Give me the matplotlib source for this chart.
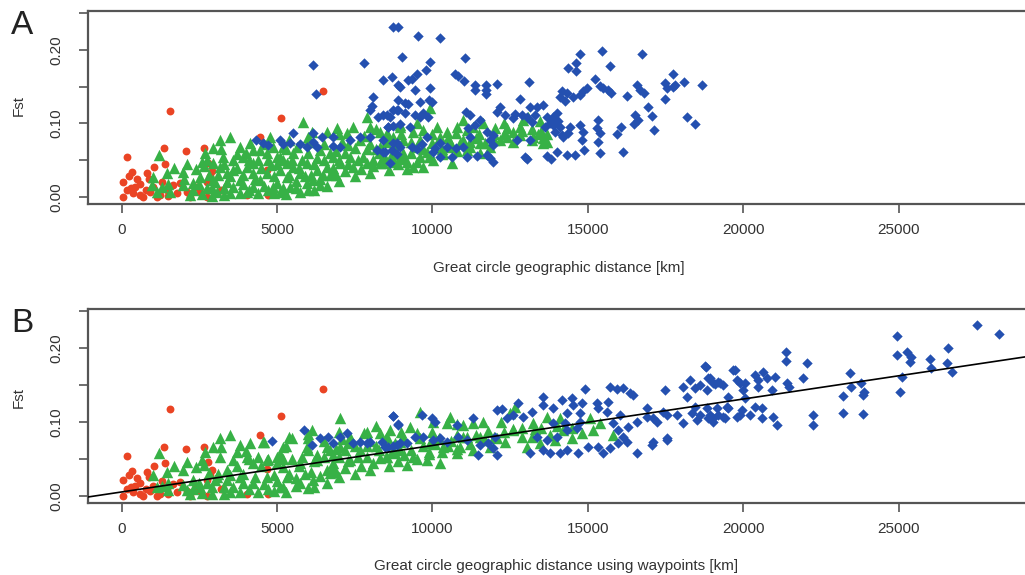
import numpy as np
import matplotlib.pyplot as plt

plt.rcParams["font.family"] = ["Liberation Sans", "DejaVu Sans"]

# ---------------------------------
# Data: (distance km, Fst)
# ---------------------------------

# pairs within a region (same in both panels)
red_pts = [
    (167, 0.054), (1560, 0.117), (1377, 0.066), (2075, 0.063), (2654, 0.066),
    (5132, 0.108), (6493, 0.144), (4456, 0.082), (1055, 0.041), (1400, 0.045),
    (328, 0.034), (810, 0.032), (39, 0.021), (167, 0.0095), (380, 0.005),
    (595, 0.003), (917, 0.007), (1239, 0.003), (1776, 0.005), (2098, 0.007),
    (1882, 0.019), (2741, 0.0005), (2741, 0.021), (4028, 0.003), (4723, 0.003),
    (2793, 0.046), (58, 0.0004), (434, 0.014), (701, 0.0004), (1023, 0.014),
    (1132, 0.0004), (1454, 0.0095), (1667, 0.016), (2204, 0.0004), (2526, 0.007),
    (4672, 0.037), (251, 0.029), (489, 0.024), (2900, 0.035), (2850, 0.028),
    (3200, 0.009), (600, 0.018), (900, 0.025), (1300, 0.02), (2400, 0.014),
    (1500, 0.002), (300, 0.012), (800, 0.01),
]

green_a = [
    (1218, 0.0571), (1968, 0.0344), (1454, 0.0321), (1003, 0.0276), (971, 0.0163),
    (1132, 0.0072), (1561, 0.0072), (1990, 0.0163), (2312, 0.0186), (2655, 0.0421),
    (2934, 0.0661), (3170, 0.0774), (3491, 0.0820), (3813, 0.0684), (4135, 0.0729),
    (3277, 0.0548), (3599, 0.0503), (3921, 0.0548), (4242, 0.0457), (2526, 0.0276),
    (2741, 0.0118), (2955, 0.0231), (3384, 0.0321), (3599, 0.0141), (3813, 0.0231),
    (3062, 0.0072), (4028, 0.0072), (4242, 0.0141), (4457, 0.0231), (4671, 0.0321),
    (4886, 0.0141), (5100, 0.0072), (5422, 0.0141), (5744, 0.0072), (5958, 0.0186),
    (6387, 0.0163), (6709, 0.0299), (4778, 0.0820), (4671, 0.0593), (4993, 0.0548),
    (5315, 0.0457), (5529, 0.0593), (5851, 0.1024), (6119, 0.0888), (6387, 0.0638),
    (6602, 0.0888), (6816, 0.0548), (6923, 0.0933), (7245, 0.0865), (7459, 0.0956),
    (7674, 0.0774), (7352, 0.0548), (7889, 0.1092), (7996, 0.0956), (8318, 0.0888),
    (8532, 0.0820), (7781, 0.0548), (8103, 0.0503), (8425, 0.0548), (8747, 0.0480),
    (8961, 0.0548), (8961, 0.0956), (5529, 0.0412), (5958, 0.0457), (6280, 0.0367),
    (6602, 0.0412), (7031, 0.0457), (7460, 0.0412), (7889, 0.0457), (8318, 0.0457),
    (5100, 0.0367), (5315, 0.0276), (5744, 0.0321), (6173, 0.0231), (6494, 0.0299),
    (4242, 0.0321), (4028, 0.0412), (3599, 0.0367), (3170, 0.0412), (2955, 0.0457),
    (2741, 0.0503), (5636, 0.0684), (5207, 0.0684), (4457, 0.0638), (4886, 0.0684),
    (4242, 0.0638), (9926, 0.1205), (9497, 0.1001), (8961, 0.0978), (9390, 0.0888),
    (9711, 0.0910), (10140, 0.0956), (10462, 0.0888), (10772, 0.0865), (11106, 0.0910),
    (10998, 0.1046), (11642, 0.1001), (12017, 0.0933), (12393, 0.0933), (12821, 0.0956),
    (13090, 0.1092), (13465, 0.1037), (12929, 0.1046), (12393, 0.0820), (12821, 0.0842),
    (13250, 0.0820), (13572, 0.0797), (13572, 0.0729), (12178, 0.0774), (11856, 0.0684),
    (11535, 0.0729), (11213, 0.0752), (10891, 0.0729), (10570, 0.0684), (10355, 0.0593),
    (10033, 0.0503), (10623, 0.0457), (9604, 0.0548), (9175, 0.0480), (8746, 0.0503),
    (8424, 0.0457), (9390, 0.0412), (9068, 0.0593), (9711, 0.0412), (8531, 0.0865),
    (8746, 0.0820), (9068, 0.0774), (9497, 0.0684), (9819, 0.0616), (10248, 0.0820),
    (11106, 0.0638), (11535, 0.0593), (8317, 0.0684), (2200, 0.003), (2600, 0.004),
    (3300, 0.003), (3500, 0.006), (4400, 0.005), (4700, 0.009), (5300, 0.004),
    (6000, 0.009), (6600, 0.015), (7000, 0.022), (7500, 0.028), (8000, 0.033),
    (8600, 0.037), (9200, 0.038), (7200, 0.035), (6800, 0.040), (6100, 0.030),
    (5600, 0.022), (5000, 0.019), (4600, 0.015), (3900, 0.017), (3400, 0.020),
    (2800, 0.030), (2400, 0.038), (2100, 0.045), (1700, 0.040), (3700, 0.058),
    (4400, 0.050), (5100, 0.055), (5800, 0.050), (6300, 0.053), (6900, 0.062),
    (7500, 0.066), (8200, 0.065), (8800, 0.070), (6000, 0.075), (5400, 0.077),
    (7100, 0.075), (7800, 0.083), (8500, 0.075), (9300, 0.075), (10000, 0.073),
    (10500, 0.080), (11500, 0.085), (12600, 0.075), (13200, 0.093), (11300, 0.095),
    (10300, 0.065), (9600, 0.078), (4800, 0.043), (3300, 0.045), (2000, 0.025),
    (1500, 0.018), (1300, 0.013), (2700, 0.060), (3000, 0.020), (13700, 0.075),
    (13400, 0.086), (12000, 0.085), (12300, 0.100),
    (2300, 0.010), (2500, 0.018), (2900, 0.012), (3100, 0.030), (3300, 0.012),
    (3500, 0.028), (3700, 0.040), (3900, 0.030), (4100, 0.010), (4100, 0.050),
    (4300, 0.025), (4500, 0.040), (4700, 0.050), (4900, 0.028), (5000, 0.045),
    (5200, 0.012), (5200, 0.050), (5400, 0.030), (5500, 0.050), (5700, 0.040),
    (5900, 0.028), (6000, 0.060), (6200, 0.045), (6400, 0.025), (6500, 0.050),
    (6700, 0.060), (6800, 0.035), (7000, 0.050), (7200, 0.060), (7300, 0.045),
    (7600, 0.050), (7700, 0.038), (7900, 0.065), (8100, 0.042), (8300, 0.060),
    (8500, 0.050), (8700, 0.058), (8900, 0.045), (9100, 0.052), (9300, 0.060),
    (9500, 0.048), (9700, 0.065), (9900, 0.055), (10100, 0.068), (10300, 0.058),
    (10600, 0.072), (10800, 0.062), (11000, 0.078), (11200, 0.068), (11400, 0.080),
    (11700, 0.074), (12000, 0.078), (12300, 0.085), (12600, 0.088), (12900, 0.090),
    (13200, 0.078), (13500, 0.090), (13700, 0.085), (3800, 0.005), (4900, 0.006),
    (5600, 0.012), (6200, 0.010), (6900, 0.030), (3200, 0.065), (4000, 0.060),
    (4600, 0.072), (5300, 0.065), (6500, 0.072), (7300, 0.070), (8000, 0.072),
    (9000, 0.085), (10000, 0.085), (10800, 0.095), (8200, 0.092), (7000, 0.085),
    (6000, 0.082), (2900, 0.002), (2600, 0.048),
]

green_b = [
    (1218, 0.0586), (1968, 0.0351), (1454, 0.0329), (1003, 0.0284), (1132, 0.0126),
    (1507, 0.0081), (1990, 0.0149), (2655, 0.0419), (2934, 0.0667), (3170, 0.0779),
    (3491, 0.0825), (3813, 0.0689), (4135, 0.0712), (3599, 0.0487), (4028, 0.0532),
    (4564, 0.0734), (5207, 0.0667), (5475, 0.0779), (6119, 0.0892), (6816, 0.0554),
    (7031, 0.1050), (7352, 0.0802), (7889, 0.0870), (8318, 0.0847), (8532, 0.0802),
    (8800, 0.0577), (8961, 0.0734), (2741, 0.0171), (3384, 0.0351), (3813, 0.0261),
    (4242, 0.0171), (4671, 0.0261), (5100, 0.0126), (5315, 0.0261), (5744, 0.0171),
    (6173, 0.0216), (6602, 0.0351), (6709, 0.0306), (5207, 0.0396), (5744, 0.0441),
    (6280, 0.0487), (7352, 0.0487), (7889, 0.0532), (8318, 0.0509), (4671, 0.0487),
    (4242, 0.0441), (3170, 0.0532), (3062, 0.0261), (2526, 0.0126), (2312, 0.0216),
    (2097, 0.0081), (3599, 0.0126), (5958, 0.0667), (4993, 0.0532), (6602, 0.0667),
    (7031, 0.0667), (7674, 0.0622), (9604, 0.1140), (10033, 0.1005), (10462, 0.0982),
    (10998, 0.0960), (11642, 0.1005), (12661, 0.1207), (12500, 0.1117), (11535, 0.0802),
    (12071, 0.0779), (12607, 0.0892), (13250, 0.0982), (13679, 0.1072), (14109, 0.1050),
    (14216, 0.0892), (15074, 0.1050), (15181, 0.0892), (15825, 0.0825), (13947, 0.0757),
    (13465, 0.0712), (13036, 0.0667), (8639, 0.0892), (9068, 0.0802), (9497, 0.0847),
    (9926, 0.0712), (10355, 0.0667), (10891, 0.0667), (11320, 0.0622), (8961, 0.0622),
    (9390, 0.0532), (9819, 0.0487), (10248, 0.0441), (8531, 0.0532), (10784, 0.0577),
    (11856, 0.0667), (12339, 0.0734), (11106, 0.0802), (9282, 0.0937), (10569, 0.1072),
    (2200, 0.003), (2600, 0.004), (3300, 0.003), (3500, 0.006), (4400, 0.005),
    (4700, 0.009), (5300, 0.006), (6000, 0.011), (6600, 0.018), (7000, 0.025),
    (7500, 0.030), (8000, 0.035), (8600, 0.040), (9200, 0.042), (7200, 0.038),
    (6800, 0.044), (6100, 0.032), (5600, 0.024), (5000, 0.020), (4600, 0.016),
    (3900, 0.018), (3400, 0.021), (2800, 0.031), (2400, 0.039), (2100, 0.046),
    (1700, 0.041), (3700, 0.060), (4400, 0.052), (5100, 0.057), (5800, 0.052),
    (6300, 0.056), (6900, 0.064), (7500, 0.068), (8200, 0.068), (8800, 0.072),
    (6000, 0.078), (5400, 0.080), (7100, 0.077), (7800, 0.085), (8500, 0.078),
    (9600, 0.079), (10200, 0.078), (10800, 0.083), (11800, 0.088), (12900, 0.080),
    (13300, 0.090), (11300, 0.098), (10500, 0.068), (9900, 0.060), (1500, 0.018),
    (1300, 0.013), (2700, 0.060), (3000, 0.021), (14500, 0.078), (12200, 0.100),
    (2300, 0.010), (2500, 0.018), (2900, 0.012), (3100, 0.030), (3300, 0.012),
    (3500, 0.028), (3700, 0.040), (3900, 0.030), (4100, 0.010), (4100, 0.050),
    (4300, 0.025), (4500, 0.040), (4700, 0.050), (4900, 0.028), (5000, 0.045),
    (5200, 0.012), (5200, 0.050), (5400, 0.030), (5500, 0.050), (5700, 0.040),
    (5900, 0.030), (6000, 0.062), (6200, 0.047), (6400, 0.027), (6500, 0.052),
    (6700, 0.062), (6800, 0.037), (7000, 0.052), (7200, 0.062), (7300, 0.047),
    (7600, 0.052), (7700, 0.040), (7900, 0.067), (8100, 0.044), (8300, 0.062),
    (8500, 0.052), (8700, 0.060), (8900, 0.047), (9100, 0.055), (9300, 0.062),
    (9500, 0.050), (9700, 0.067), (9900, 0.057), (10100, 0.070), (10300, 0.060),
    (10600, 0.074), (10800, 0.064), (11000, 0.080), (11200, 0.070), (11400, 0.082),
    (11700, 0.076), (12000, 0.080), (12300, 0.087), (12600, 0.090), (12900, 0.092),
    (13200, 0.080), (13500, 0.092), (13800, 0.082), (14000, 0.095), (14500, 0.092),
    (14800, 0.085), (15400, 0.098), (3800, 0.005), (4900, 0.007), (5600, 0.013),
    (6200, 0.012), (6900, 0.032), (3200, 0.066), (4000, 0.061), (4600, 0.073),
    (5300, 0.067), (6500, 0.074), (7300, 0.072), (8000, 0.074), (9000, 0.087),
    (10000, 0.087), (10800, 0.097), (8200, 0.094), (7000, 0.087), (6000, 0.084),
    (2900, 0.002), (2600, 0.049),
]

blue_a = [
    (4328, 0.0774), (4564, 0.0729), (4724, 0.0706), (5100, 0.0774), (5207, 0.0720),
    (5422, 0.0738), (5529, 0.0865), (5744, 0.0720), (5958, 0.0684), (6173, 0.0752),
    (6280, 0.0684), (6173, 0.0874), (6440, 0.0820), (6816, 0.0820), (6816, 0.0693),
    (7031, 0.0684), (7352, 0.0774), (7674, 0.0820), (7996, 0.0820), (8211, 0.0638),
    (8425, 0.0616), (8693, 0.0638), (8854, 0.0729), (8961, 0.0684), (8103, 0.1363),
    (8050, 0.1236), (7996, 0.1182), (8264, 0.1091), (8532, 0.1114), (8586, 0.0956),
    (8747, 0.0965), (8854, 0.1182), (8908, 0.1318), (6151, 0.1794), (6258, 0.1395),
    (7803, 0.1816), (8425, 0.1590), (8693, 0.1626), (8908, 0.1522), (8746, 0.2315),
    (8907, 0.2315), (9550, 0.2188), (10248, 0.2165), (9014, 0.1907), (9926, 0.1839),
    (9797, 0.1726), (9497, 0.1671), (9336, 0.1603), (9229, 0.1590), (8961, 0.1490),
    (9443, 0.1454), (9926, 0.1477), (11052, 0.1884), (10730, 0.1671), (10837, 0.1644),
    (11020, 0.1576), (11374, 0.1522), (11374, 0.1454), (11728, 0.1522), (11728, 0.1454),
    (11728, 0.1400), (12071, 0.1535), (13111, 0.1558), (14752, 0.1943), (14623, 0.1825),
    (14377, 0.1748), (14623, 0.1712), (15449, 0.1988), (15717, 0.1785), (16736, 0.1943),
    (15234, 0.1603), (15396, 0.1513), (15503, 0.1477), (15664, 0.1454), (15739, 0.1409),
    (16254, 0.1372), (16575, 0.1522), (16683, 0.1454), (16811, 0.1418), (17487, 0.1545),
    (17562, 0.1477), (17755, 0.1671), (17808, 0.1522), (17734, 0.1490), (18098, 0.1558),
    (18667, 0.1522), (17487, 0.1327), (18184, 0.1091), (18452, 0.0992), (16950, 0.1218),
    (17058, 0.1101), (17133, 0.0910), (16522, 0.1114), (16629, 0.1046), (16490, 0.0992),
    (16146, 0.0616), (16060, 0.0956), (15932, 0.0856), (15342, 0.1046), (15288, 0.0933),
    (15396, 0.0865), (15342, 0.0752), (15396, 0.0593), (14859, 0.0888), (14806, 0.0775),
    (14752, 0.0978), (14881, 0.0639), (14591, 0.0570), (14323, 0.0570), (14001, 0.0616),
    (14377, 0.0865), (14430, 0.0956), (14216, 0.0820), (14162, 0.1445), (14323, 0.1418),
    (14109, 0.1354), (14270, 0.1309), (14537, 0.1363), (14752, 0.1386), (14859, 0.1445),
    (14966, 0.1477), (14001, 0.1137), (13894, 0.1082), (14055, 0.1037), (13894, 0.0978),
    (14109, 0.0956), (13947, 0.0888), (14162, 0.0842), (13679, 0.1091), (13786, 0.1010),
    (13626, 0.0956), (13572, 0.1250), (13304, 0.1114), (13143, 0.1218), (13358, 0.1218),
    (12821, 0.1332), (13197, 0.1024), (13036, 0.1091), (12875, 0.1114), (12661, 0.1128),
    (12586, 0.1069), (12982, 0.0548), (13057, 0.0512), (13679, 0.0557), (13808, 0.0512),
    (11856, 0.0525), (11963, 0.0480), (11749, 0.0570), (11427, 0.0557), (11000, 0.0684),
    (10762, 0.0661), (10462, 0.0684), (10248, 0.0729), (10086, 0.0661), (9819, 0.0820),
    (11213, 0.0820), (11159, 0.0933), (11374, 0.0978), (11535, 0.1046), (11213, 0.1114),
    (11084, 0.1160), (12178, 0.1227), (12092, 0.1160), (12339, 0.1114), (11856, 0.0774),
    (11963, 0.0842), (11770, 0.0888), (11963, 0.0706), (12714, 0.0774), (13143, 0.0774),
    (8424, 0.1114), (8639, 0.1091), (8585, 0.0956), (8746, 0.1182), (8907, 0.1182),
    (8961, 0.0992), (9121, 0.1137), (9121, 0.1273), (9282, 0.0947), (9336, 0.0684),
    (9497, 0.0648), (9658, 0.0720), (9443, 0.1114), (9604, 0.1082), (9711, 0.1146),
    (9872, 0.1082), (9979, 0.1295), (9904, 0.1318), (9604, 0.1295), (9229, 0.1264),
    (8746, 0.0729), (8478, 0.0616), (8853, 0.0584), (8639, 0.0457), (8424, 0.0774),
    (10248, 0.0548), (10033, 0.0616), (10623, 0.0548), (11106, 0.0548),
]

blue_b = [
    (4832, 0.0748), (5872, 0.0892), (6119, 0.0689), (6387, 0.0779), (6655, 0.0802),
    (6816, 0.0712), (7031, 0.0802), (7245, 0.0847), (7459, 0.0712), (7674, 0.0734),
    (7889, 0.0712), (7996, 0.0734), (8371, 0.0734), (8747, 0.1081), (8908, 0.0973),
    (8586, 0.0667), (8854, 0.0689), (8746, 0.1081), (8907, 0.0960), (9658, 0.1095),
    (9979, 0.1050), (10086, 0.1005), (10784, 0.0960), (11320, 0.1050), (12071, 0.1162),
    (12232, 0.1171), (12393, 0.1050), (12607, 0.1095), (12768, 0.1252), (12929, 0.1072),
    (13197, 0.1140), (13572, 0.1342), (13572, 0.1230), (13894, 0.1185), (14162, 0.1297),
    (14484, 0.1320), (14537, 0.1230), (14806, 0.1252), (14913, 0.1442), (14752, 0.1117),
    (15288, 0.1252), (15342, 0.1185), (15664, 0.1275), (15717, 0.1478), (15932, 0.1442),
    (16146, 0.1455), (16361, 0.1397), (16468, 0.1365), (15610, 0.1140), (16039, 0.1095),
    (15825, 0.0982), (15986, 0.0892), (16146, 0.0802), (16307, 0.0937), (16575, 0.1005),
    (16897, 0.1072), (16897, 0.1185), (17112, 0.1050), (17219, 0.1005), (17433, 0.1140),
    (17487, 0.1432), (17562, 0.0779), (17112, 0.0734), (17058, 0.0689), (16575, 0.0577),
    (16254, 0.0734), (15986, 0.0712), (15717, 0.0644), (15503, 0.0577), (15342, 0.0667),
    (15020, 0.0667), (14698, 0.0577), (14323, 0.0622), (14109, 0.0577), (13786, 0.0577),
    (13572, 0.0622), (13679, 0.0757), (14001, 0.0802), (14323, 0.0892), (14645, 0.0915),
    (14270, 0.0982), (14752, 0.1005), (14323, 0.1117), (13894, 0.0982), (13358, 0.0802),
    (13143, 0.0577), (12071, 0.0554), (11963, 0.0644), (11803, 0.0712), (12017, 0.0802),
    (11481, 0.0554), (11535, 0.0689), (11106, 0.0757), (10837, 0.0802), (10462, 0.0734),
    (10248, 0.0779), (10033, 0.0757), (9711, 0.0802), (9443, 0.0802), (9175, 0.0712),
    (8746, 0.0676), (8478, 0.0667), (8961, 0.0712), (18184, 0.1342), (18077, 0.1478),
    (18291, 0.1568), (18452, 0.1455), (18613, 0.1500), (18881, 0.1590), (18774, 0.1757),
    (19042, 0.1523), (19203, 0.1545), (19364, 0.1500), (19686, 0.1703), (19793, 0.1568),
    (19525, 0.1342), (19471, 0.1207), (19149, 0.1185), (18881, 0.1050), (18506, 0.1027),
    (18345, 0.1117), (18077, 0.0982), (17862, 0.1095), (17541, 0.1095), (19793, 0.1072),
    (19364, 0.1072), (19042, 0.1050), (18613, 0.1095), (17541, 0.0757), (18452, 0.1207),
    (18806, 0.1748), (18935, 0.1590), (19096, 0.1514), (19257, 0.1523), (18828, 0.1433),
    (19739, 0.1703), (19900, 0.1532), (20061, 0.1532), (20007, 0.1433), (20061, 0.1320),
    (19954, 0.1162), (19900, 0.1095), (20222, 0.1095), (19525, 0.1185), (19417, 0.1050),
    (19203, 0.1095), (18828, 0.1185), (18935, 0.1095), (19042, 0.1005), (20382, 0.1635),
    (20490, 0.1568), (20490, 0.1478), (20651, 0.1680), (20758, 0.1590), (20597, 0.1185),
    (20597, 0.1050), (20382, 0.1207), (20919, 0.1433), (21026, 0.1604), (20973, 0.1072),
    (21080, 0.0960), (21380, 0.1950), (21380, 0.1829), (21423, 0.1523), (21487, 0.1478),
    (21917, 0.1590), (22067, 0.1793), (22260, 0.1095), (22238, 0.0960), (23203, 0.1351),
    (23203, 0.1126), (23439, 0.1658), (23461, 0.1469), (23783, 0.1523), (23890, 0.1410),
    (23847, 0.1365), (23868, 0.1108), (24962, 0.2167), (24962, 0.1906), (25284, 0.1951),
    (25391, 0.1883), (25370, 0.1815), (25102, 0.1604), (25048, 0.1410), (26013, 0.1847),
    (26035, 0.1725), (26603, 0.1996), (26571, 0.1802), (26710, 0.1680), (27536, 0.2311),
    (28233, 0.2189),
]

# least squares fit drawn in panel B
fit_intercept = 0.0054
fit_slope = 6.28e-6

x_ticks = [0, 5000, 10000, 15000, 20000, 25000]
y_ticks = [0.00, 0.05, 0.10, 0.15, 0.20, 0.25]
y_ticklabels = ["0.00", "", "0.10", "", "0.20", ""]

RED = "#ea4424"
GREEN = "#37b146"
BLUE = "#2450b0"
FRAME = "#555555"
TEXT = "#333333"

fig = plt.figure(figsize=(10.25, 5.75), dpi=100)

ax_a = fig.add_axes([88 / 1025, 1 - 204 / 575, 948 / 1025, 193 / 575])
ax_b = fig.add_axes([88 / 1025, 1 - 503 / 575, 948 / 1025, 194 / 575])


def draw_panel(ax, greens, blues):
    rx, ry = np.array(red_pts).T
    gx, gy = np.array(greens).T
    bx, by = np.array(blues).T
    ax.scatter(rx, ry, s=32, marker="o", color=RED, linewidths=0, zorder=2)
    ax.scatter(gx, gy, s=68, marker="^", color=GREEN, linewidths=0, zorder=3)
    ax.scatter(bx, by, s=28, marker="D", color=BLUE, linewidths=0, zorder=4)

    ax.set_xlim(-1078, 29422)
    ax.set_ylim(-0.0095, 0.2527)
    ax.set_xticks(x_ticks)
    ax.set_xticklabels([str(v) for v in x_ticks])
    ax.set_yticks(y_ticks)
    ax.set_yticklabels(y_ticklabels, rotation=90, va="center")

    for side in ("left", "bottom", "top", "right"):
        ax.spines[side].set_color(FRAME)
        ax.spines[side].set_linewidth(1.6)

    ax.tick_params(axis="both", direction="out", length=6.5, width=1.2,
                   color=FRAME, labelcolor=TEXT, labelsize=11)
    ax.tick_params(axis="x", pad=7)
    ax.tick_params(axis="y", pad=11)


draw_panel(ax_a, green_a, blue_a)
draw_panel(ax_b, green_b, blue_b)

# regression line in B
xl = np.array(ax_b.get_xlim())
ax_b.plot(xl, fit_intercept + fit_slope * xl, color="black", lw=1.2, zorder=5)
ax_b.set_xlim(-1078, 29422)

# ---------------------------------
# Labels
# ---------------------------------

fig.text(11 / 1025, 1 - 25 / 575, "A", fontsize=24, color="#222222",
         ha="left", va="center")
fig.text(11 / 1025, 1 - 323 / 575, "B", fontsize=24, color="#222222",
         ha="left", va="center")

fig.text(19 / 1025, 1 - 105 / 575, "Fst", fontsize=11, color=TEXT,
         rotation=90, ha="center", va="center")
fig.text(19 / 1025, 1 - 397 / 575, "Fst", fontsize=11, color=TEXT,
         rotation=90, ha="center", va="center")

fig.text(559 / 1025, 1 - 268 / 575, "Great circle geographic distance [km]",
         fontsize=11, color=TEXT, ha="center", va="center")
fig.text(556 / 1025, 1 - 566 / 575,
         "Great circle geographic distance using waypoints [km]",
         fontsize=11, color=TEXT, ha="center", va="center")

fig.savefig("out.png", dpi=100)
